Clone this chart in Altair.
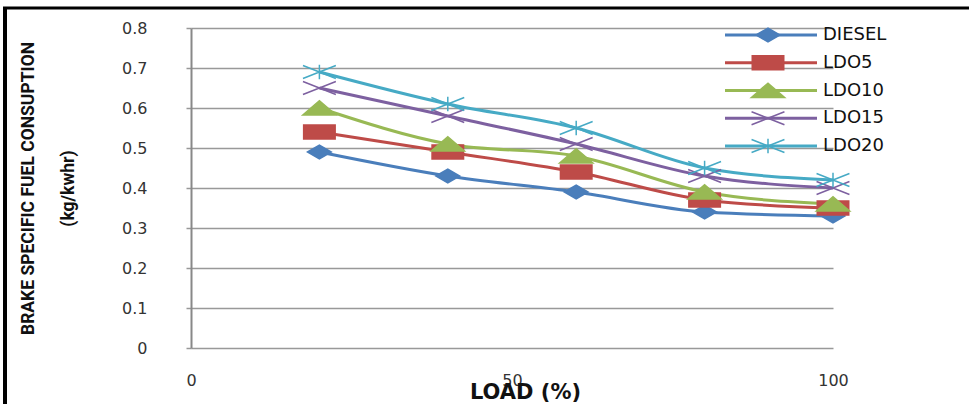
import altair as alt
import pandas as pd

# Brake specific fuel consumption (kg/kWhr) against engine load (%)
series = ["DIESEL", "LDO5", "LDO10", "LDO15", "LDO20"]
load = [20, 40, 60, 80, 100]
diesel = [0.49, 0.43, 0.39, 0.34, 0.33]
ldo5 = [0.54, 0.49, 0.44, 0.37, 0.35]
ldo10 = [0.60, 0.51, 0.48, 0.39, 0.36]
ldo15 = [0.65, 0.58, 0.51, 0.43, 0.40]
ldo20 = [0.69, 0.61, 0.55, 0.45, 0.42]
y_ticks = [0, 0.1, 0.2, 0.3, 0.4, 0.5, 0.6, 0.7, 0.8]
x_ticks = [0, 50, 100]

colors = ["#4a7ebb", "#be4b48", "#98b954", "#7d60a0", "#46aac5"]
fills = ["#4a7ebb", "#be4b48", "#98b954", "transparent", "transparent"]
# marker outlines in the unit box (wide, Excel-like markers)
shapes = [
    "M-0.68,0L0,-0.4L0.68,0L0,0.4Z",
    "M-0.9,-0.4L0.9,-0.4L0.9,0.4L-0.9,0.4Z",
    "M-0.95,0.4L0,-0.42L0.95,0.4Z",
    "M-0.94,-0.37L0.94,0.37M-0.94,0.37L0.94,-0.37",
    "M-0.94,-0.37L0.94,0.37M-0.94,0.37L0.94,-0.37M0,-0.42L0,0.42",
]

values = [diesel, ldo5, ldo10, ldo15, ldo20]
df = pd.DataFrame(
    [{"series": s, "load": x, "bsfc": v} for s, vals in zip(series, values) for x, v in zip(load, vals)]
)
legend_df = pd.DataFrame({"series": series})

W, H = 642, 320
LEFT, TOP = 191, 28

stroke_scale = alt.Scale(domain=series, range=colors)
fill_scale = alt.Scale(domain=series, range=fills)
shape_scale = alt.Scale(domain=series, range=shapes)

x_enc = alt.X(
    "load:Q",
    scale=alt.Scale(domain=[0, 100], nice=False),
    axis=alt.Axis(
        values=x_ticks, grid=False, domain=False, ticks=False,
        labelFont="DejaVu Sans", labelFontSize=16, labelColor="#333333",
        labelPadding=24, labelFlush=False,
        title="LOAD (%)", titleFont="DejaVu Sans", titleFontWeight="bold",
        titleFontSize=21, titleColor="#111111", titleX=334, titleY=50,
        titleBaseline="alphabetic", titleAnchor="middle",
    ),
)
y_enc = alt.Y(
    "bsfc:Q",
    scale=alt.Scale(domain=[0, 0.8], nice=False),
    axis=alt.Axis(
        values=y_ticks, format=".1~f", labelOverlap=False,
        grid=True, gridColor="#999999", gridWidth=1.5,
        domainColor="#888888", domainWidth=2, tickColor="#999999", tickSize=5, tickWidth=1.5,
        labelFont="DejaVu Sans", labelFontSize=16, labelColor="#333333", labelPadding=39,
        title=["BRAKE SPECIFIC FUEL CONSUPTION", "(kg/kwhr)"],
        titleFont="Roboto", titleFontWeight="bold", titleFontSize=17.5, titleColor="#111111",
        titleAngle=270, titleBaseline="top", titleLineHeight=40,
        titleX=-172, titleY=160, titleAnchor="middle",
    ),
)

lines = alt.Chart(df).mark_line(strokeWidth=3, interpolate="monotone").encode(
    x=x_enc, y=y_enc,
    stroke=alt.Stroke("series:N", scale=stroke_scale, legend=None),
    detail="series:N",
)
points = alt.Chart(df).mark_point(size=1225, strokeWidth=1.5, opacity=1, fillOpacity=1).encode(
    x=x_enc, y=y_enc,
    stroke=alt.Stroke("series:N", scale=stroke_scale, legend=None),
    fill=alt.Fill("series:N", scale=fill_scale, legend=None),
    shape=alt.Shape("series:N", scale=shape_scale, legend=None),
)
plot = alt.layer(lines, points)

# hand-drawn legend: line sample, marker and name for each series
leg_y = alt.Y("series:N", scale=alt.Scale(type="point", domain=series, range=[7, 118], padding=0), axis=None)
leg_line = alt.Chart(legend_df).mark_rule(strokeWidth=3).encode(
    x=alt.value(534), x2=alt.value(626), y=leg_y,
    stroke=alt.Stroke("series:N", scale=stroke_scale, legend=None),
)
leg_pt = alt.Chart(legend_df).mark_point(size=1225, strokeWidth=1.5, opacity=1, fillOpacity=1).encode(
    x=alt.value(577), y=leg_y,
    stroke=alt.Stroke("series:N", scale=stroke_scale, legend=None),
    fill=alt.Fill("series:N", scale=fill_scale, legend=None),
    shape=alt.Shape("series:N", scale=shape_scale, legend=None),
)
leg_txt = alt.Chart(legend_df).mark_text(
    align="left", baseline="middle", font="DejaVu Sans", fontSize=18, color="#111111"
).encode(x=alt.value(632), y=leg_y, text="series:N")
legend = alt.layer(leg_line, leg_pt, leg_txt)

# page frame
frame_df = pd.DataFrame({"k": [0]})
frame_top = alt.Chart(frame_df).mark_rule(color="#000000", strokeWidth=3).encode(
    x=alt.value(-188), x2=alt.value(780), y=alt.value(-20)
)
frame_left = alt.Chart(frame_df).mark_rule(color="#000000", strokeWidth=4).encode(
    x=alt.value(-186), y=alt.value(-21), y2=alt.value(380)
)

chart = (
    alt.layer(plot, legend, frame_top, frame_left)
    .resolve_scale(y="independent")
    .properties(
        width=W, height=H,
        autosize=alt.AutoSizeParams(type="none"),
        padding={"left": LEFT, "top": TOP, "right": 969 - LEFT - W, "bottom": 404 - TOP - H},
        background="white",
    )
    .configure_view(stroke=None)
)

chart.save("out.html", embed_options={"renderer": "svg", "actions": False})
